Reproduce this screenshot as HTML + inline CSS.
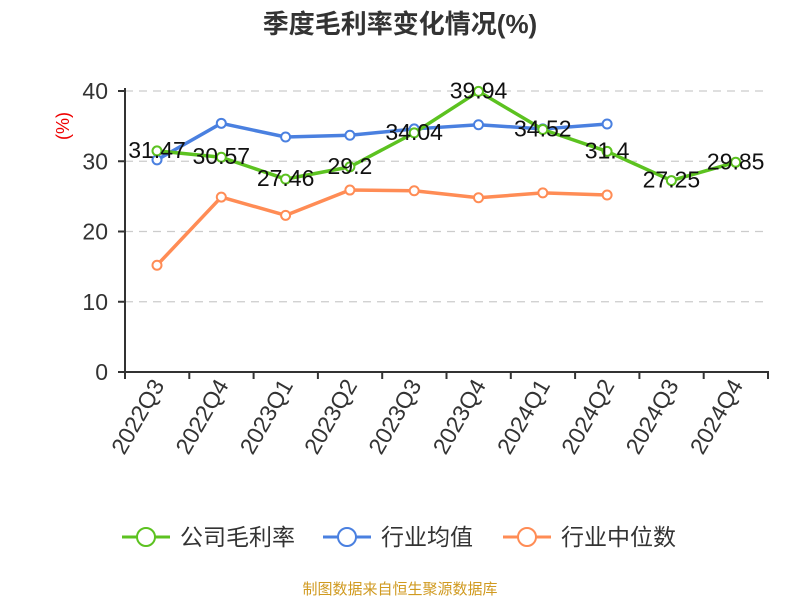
<!DOCTYPE html>
<html><head><meta charset="utf-8"><style>
body{margin:0;background:#fff}
text{font-family:"Liberation Sans","Noto Sans CJK SC",sans-serif}
</style></head><body>
<svg id="s" width="800" height="600" xmlns="http://www.w3.org/2000/svg">
<text x="400" y="33" text-anchor="middle" font-size="26" font-weight="bold" fill="#333">季度毛利率变化情况(%)</text>
<text transform="translate(69,126) rotate(-90)" text-anchor="middle" font-size="18" fill="#e00">(%)</text>
</svg>
<script>
const s=document.getElementById('s');const ns='http://www.w3.org/2000/svg';
function el(t,a,txt){const e=document.createElementNS(ns,t);for(const k in a)e.setAttribute(k,a[k]);if(txt!=null)e.textContent=txt;s.appendChild(e);return e;}
const Y=v=>372-7.025*v, X=i=>157+64.3*i;
for(let v=10;v<=40;v+=10)el('line',{x1:125,x2:768,y1:Y(v),y2:Y(v),stroke:'#ccc','stroke-dasharray':'8,6','stroke-width':1.2});
for(let v=0;v<=40;v+=10){el('text',{x:108,y:Y(v)+8,'text-anchor':'end','font-size':23,fill:'#333'},v);el('line',{x1:118,x2:125,y1:Y(v),y2:Y(v),stroke:'#333','stroke-width':2});}
el('line',{x1:125,x2:125,y1:88,y2:373,stroke:'#333','stroke-width':2});
el('line',{x1:124,x2:769,y1:372,y2:372,stroke:'#333','stroke-width':2});
const cats=['2022Q3','2022Q4','2023Q1','2023Q2','2023Q3','2023Q4','2024Q1','2024Q2','2024Q3','2024Q4'];
for(let i=0;i<=10;i++){const x=125+64.3*i;el('line',{x1:x,x2:x,y1:372,y2:379,stroke:'#333','stroke-width':2});}
cats.forEach((c,i)=>el('text',{transform:`translate(${X(i)+8},385) rotate(-60)`,'text-anchor':'end','font-size':23,fill:'#333'},c));
function series(d,col){el('polyline',{points:d.map((v,i)=>X(i)+','+Y(v)).join(' '),fill:'none',stroke:col,'stroke-width':3.5,'stroke-linejoin':'round'});
d.forEach((v,i)=>el('circle',{cx:X(i),cy:Y(v),r:4.5,fill:'#fff',stroke:col,'stroke-width':2}));}
const g=[31.47,30.57,27.46,29.2,34.04,39.94,34.52,31.4,27.25,29.85];
series([15.2,24.9,22.3,25.9,25.8,24.8,25.5,25.2],'#ff8c55');
series([30.2,35.4,33.45,33.7,34.6,35.2,34.6,35.3],'#4a80e0');
series(g,'#5cc220');
g.forEach((v,i)=>el('text',{x:X(i),y:Y(v)+7,'text-anchor':'middle','font-size':23,fill:'#111'},v));
const leg=[['公司毛利率','#5cc220',122],['行业均值','#4a80e0',323],['行业中位数','#ff8c55',503]];
leg.forEach(([t,c,x])=>{el('line',{x1:x,x2:x+48,y1:537,y2:537,stroke:c,'stroke-width':3});el('circle',{cx:x+24,cy:537,r:9,fill:'#fff',stroke:c,'stroke-width':2});el('text',{x:x+58,y:545,'font-size':23,fill:'#333'},t);});
el('text',{x:400,y:594,'text-anchor':'middle','font-size':15,fill:'#d09a20'},'制图数据来自恒生聚源数据库');
</script>
</body></html>
